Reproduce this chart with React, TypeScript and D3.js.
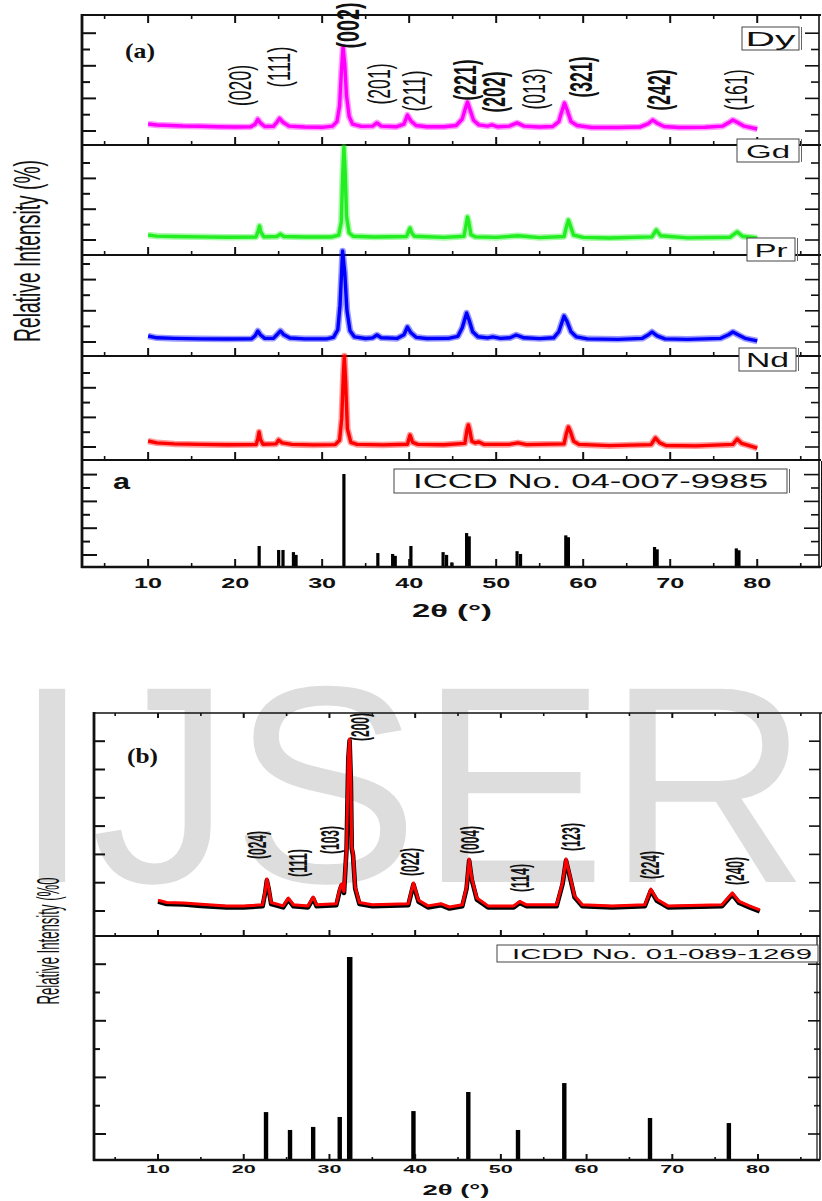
import React, { useRef, useEffect } from "react";
import * as d3 from "d3";

type Pt = [number, number];

// ---------- figure (a): XRD patterns, relative intensity (%) vs 2theta ----------
const samplesA = ["Dy", "Gd", "Pr", "Nd"];
const colorsA = ["#ff00ff", "#22ee22", "#0000ff", "#ff0000"];

const dyPattern: Pt[] = [
  [10, 16.2], [11, 15.4], [12.5, 15], [14, 14.6], [16, 14.4], [18, 14], [20, 13.8], [21.8, 14],
  [22.3, 16], [22.6, 19.8], [22.9, 17], [23.4, 14.2], [24.4, 14.3], [24.8, 17.5], [25.1, 20.5],
  [25.5, 17.5], [26.2, 14.5], [28, 13.8], [30, 13.6], [31.2, 14.5], [31.7, 18], [32.0, 30],
  [32.2, 55], [32.4, 75.4], [32.6, 62], [32.8, 38], [33.1, 22], [33.5, 16], [34.5, 14.3],
  [35.8, 14.5], [36.3, 17], [36.8, 14.5], [38.5, 14], [39.4, 16], [39.8, 23], [40.2, 18.5],
  [40.8, 15], [42, 14], [44, 14], [45.4, 15], [46.1, 20], [46.45, 28], [46.7, 33], [47.0, 27],
  [47.4, 19], [48, 15.5], [49, 14.5], [49.5, 15.4], [50.2, 14], [51.5, 14.5], [52.4, 17],
  [53.2, 14.5], [55, 13.8], [56.5, 14.2], [57.2, 18], [57.55, 26], [57.85, 32.3], [58.2, 26],
  [58.6, 18], [59.3, 15], [61, 13.5], [64, 13.5], [66.5, 13.8], [67.5, 16.5], [68.0, 19.2],
  [68.5, 16.8], [69.3, 14.2], [71, 13.5], [74, 13.6], [76, 14.5], [76.8, 17.5], [77.2, 19.2],
  [77.7, 17.5], [78.5, 14.5], [80, 12.3]
];

const gdPattern: Pt[] = [
  [10, 18.2], [11, 17.2], [13, 16.8], [16, 16.5], [19, 16.2], [22.4, 16.4], [22.65, 22],
  [22.8, 26.4], [22.95, 21], [23.3, 16.5], [24.8, 16.8], [25.2, 19], [25.6, 16.8], [28, 16.3],
  [31, 16.3], [31.9, 18], [32.2, 30], [32.35, 70], [32.5, 98], [32.65, 75], [32.8, 35],
  [33.1, 20], [33.6, 17], [36, 16.3], [39.7, 16.8], [39.95, 22], [40.1, 24.5], [40.3, 20],
  [40.6, 17], [44, 16], [46.3, 17], [46.55, 28], [46.7, 34.5], [46.85, 30], [47.1, 18.5],
  [47.6, 16.5], [50, 16], [52.5, 17.5], [55, 15.8], [57.8, 16.8], [58.05, 25], [58.3, 31.8],
  [58.55, 26], [58.9, 18], [60, 16], [63, 15.5], [67.9, 16.5], [68.4, 22.7], [68.9, 17.5],
  [72, 15.6], [76.9, 16.2], [77.7, 21], [78.3, 17], [80, 15.5]
];

const prPattern: Pt[] = [
  [10, 19.8], [11, 18], [13, 17.4], [16, 17], [19, 16.8], [21.9, 17], [22.3, 20], [22.6, 24.8],
  [22.9, 21], [23.4, 17.5], [24.4, 17.5], [24.8, 21], [25.2, 24.8], [25.6, 21], [26.3, 17.8],
  [28, 17], [30.5, 17], [31.3, 18.5], [31.8, 26], [32.05, 50], [32.35, 104], [32.6, 82],
  [32.85, 45], [33.2, 25], [33.7, 19], [35, 17.3], [35.8, 18], [36.3, 20.8], [36.8, 18],
  [38.6, 17.4], [39.4, 21], [39.8, 28.7], [40.2, 23], [40.8, 18.5], [42, 17.3], [44.5, 17.5],
  [45.6, 19.5], [46.1, 28], [46.6, 42.6], [46.95, 34], [47.3, 24], [47.9, 19], [49, 18],
  [49.6, 19], [50.5, 17.5], [51.6, 18], [52.3, 20.8], [53.2, 18], [55, 17.2], [56.6, 18],
  [57.2, 24], [57.8, 39.6], [58.15, 34], [58.6, 24], [59.2, 19], [60.5, 17], [64, 16.5],
  [66.8, 17.5], [67.5, 21], [67.9, 23.8], [68.5, 20], [69.4, 17], [72, 16.5], [75.8, 17.5],
  [76.7, 21], [77.2, 23.8], [77.8, 21], [78.6, 17.5], [80, 14.9]
];

const ndPattern: Pt[] = [
  [10, 18.3], [11, 16.5], [13, 15.5], [16, 15], [19, 14.6], [22.4, 14.8], [22.6, 20],
  [22.75, 26.9], [22.9, 20], [23.2, 15.2], [24.7, 15.5], [25.0, 19.2], [25.4, 16.5], [26.5, 15],
  [29, 14.5], [31.5, 14.8], [32.0, 19], [32.25, 40], [32.45, 85], [32.55, 100], [32.7, 75],
  [32.9, 30], [33.3, 17], [34, 15], [37, 14.5], [39.8, 15.2], [40.1, 24], [40.4, 17], [41, 15],
  [44, 14.6], [46.4, 16], [46.65, 29], [46.8, 33.7], [46.95, 29], [47.2, 18], [47.6, 16.5],
  [48, 17.3], [48.6, 15], [51.5, 15], [52.5, 16.5], [53.5, 14.8], [57.8, 15.5], [58.05, 25],
  [58.3, 31.7], [58.55, 27], [58.9, 18], [59.5, 15], [63, 13.8], [67.8, 14.8], [68.3, 21.2],
  [68.8, 16.5], [69.5, 14], [73, 13.6], [77.2, 15], [77.7, 20.2], [78.2, 16], [79, 14], [80, 11.5]
];

// ICCD No. 04-007-9985 stick pattern
const refA: Pt[] = [
  [22.76, 22.6], [25.0, 18.3], [25.5, 18.3], [26.7, 16], [27.0, 13], [32.5, 100], [36.4, 15],
  [38.1, 14], [38.4, 12], [40.2, 22.6], [43.9, 16], [44.3, 13], [44.9, 5], [46.6, 36.5],
  [46.9, 33], [52.4, 17], [52.8, 14], [58.0, 34], [58.3, 32], [68.2, 21.5], [68.5, 19],
  [77.6, 20], [77.9, 18]
];

const hklA = ["(020)", "(111)", "(002)", "(201)", "(211)", "(221)", "(202)", "(013)", "(321)", "(242)", "(161)"];
const hklAPos = [20.9, 25.4, 33.3, 36.9, 40.9, 46.7, 50.1, 54.7, 60.1, 69.0, 77.9];

// ---------- figure (b) ----------
const patternB: Pt[] = [
  [10, 16.1], [11, 15], [13, 14.8], [15, 14.2], [18, 13.5], [20, 13.5], [22.2, 14], [22.5, 20],
  [22.7, 25.6], [22.9, 22], [23.2, 15], [24.6, 13.5], [25.2, 17], [25.8, 14], [27.5, 13.5],
  [28.1, 17.5], [28.5, 14], [30.8, 14.5], [31.2, 21], [31.4, 23.3], [31.7, 20], [32.0, 40],
  [32.2, 80], [32.35, 88.3], [32.5, 70], [32.6, 40], [32.75, 37], [33.0, 22], [33.5, 15],
  [35, 14], [39.2, 14.5], [39.8, 23.8], [40.4, 16], [41.5, 13.5], [43, 14.5], [44, 13],
  [45.5, 14], [46.0, 22], [46.3, 34.5], [46.6, 26], [47.2, 17], [48.5, 13.5], [51.5, 13.5],
  [52.2, 15.5], [53, 14], [56.5, 14], [57.2, 24], [57.6, 34.5], [58.0, 28], [58.6, 18],
  [59.5, 14], [63, 13.5], [66.8, 14], [67.5, 21], [68.2, 16.5], [69.5, 13.5], [75.8, 14],
  [77, 19.3], [77.8, 15.5], [79, 13.5], [80.2, 11.7]
];

// ICDD No. 01-089-1269 stick pattern
const refB: Pt[] = [
  [22.6, 23.6], [25.4, 14.8], [28.1, 16.3], [31.2, 21.2], [32.3, 100], [39.8, 24.1],
  [46.2, 33.5], [52.0, 14.8], [57.4, 37.9], [67.4, 20.7], [76.6, 18.2]
];

const hklB = ["(024)", "(111)", "(103)", "(200)", "(022)", "(004)", "(114)", "(123)", "(224)", "(240)"];
const hklBPos = [21.8, 26.6, 30.3, 33.8, 39.6, 46.6, 52.5, 58.4, 67.6, 77.6];

const xTickLabels = [10, 20, 30, 40, 50, 60, 70, 80];

// ---------- layout ----------
const SANS = "'Liberation Sans', Arial, sans-serif";
const SERIF = "'Liberation Serif', 'Times New Roman', serif";

const panelsA = [
  { top: 15, bottom: 145, step: 16.3, off: 14, box: [742, 27, 57, 23], fs: 21, tw: 50 },
  { top: 145, bottom: 255, step: 15.4, off: 15, box: [737, 139, 62, 23], fs: 18, tw: 44 },
  { top: 255, bottom: 356, step: 15.6, off: 14, box: [747, 238, 48, 23], fs: 19, tw: 33 },
  { top: 356, bottom: 460, step: 14.8, off: 13, box: [739, 348, 57, 23], fs: 20, tw: 43 }
];
const hklAY = [85.5, 67, 25.5, 84, 91, 80, 92, 89, 77, 90, 90];
const hklBY = [845, 863, 840, 727, 862, 840, 878, 837, 865, 871];

const App = () => {
  const svgRef = useRef<SVGSVGElement>(null);

  useEffect(() => {
    const svg = d3.select(svgRef.current);
    svg.selectAll("*").remove();

    // watermark
    svg
      .append("text")
      .attr("x", 13)
      .attr("y", 882)
      .attr("font-family", SANS)
      .attr("font-size", 281)
      .attr("fill", "#dddddd")
      .text("IJSER");

    const hLine = (x1, x2, y, w = 2) =>
      svg.append("line").attr("x1", x1).attr("x2", x2).attr("y1", y).attr("y2", y)
        .attr("stroke", "#111").attr("stroke-width", w);
    const vLine = (x, y1, y2, w = 2) =>
      svg.append("line").attr("x1", x).attr("x2", x).attr("y1", y1).attr("y2", y2)
        .attr("stroke", "#111").attr("stroke-width", w);

    const xTicks = (x, y, dir, majorLen, minorLen) => {
      d3.range(5, 90, 5).forEach((v) => {
        const major = v % 10 === 0;
        vLine(x(v), y, y + dir * (major ? majorLen : minorLen), major ? 2 : 1.6);
      });
    };

    const yTicks = (left, right, top, bottom, off, step, longLen, shortLen) => {
      let k = 0;
      for (let y = bottom - off; y > top + 3; y -= step, k++) {
        const len = k % 2 === 0 ? longLen : shortLen;
        hLine(left, left + len, y, 2);
        hLine(right - len, right, y, 1.6);
      }
    };

    const stretched = (txt, x, y, fs, len, opts: any = {}) =>
      svg
        .append("text")
        .attr("x", x)
        .attr("y", y)
        .attr("font-family", opts.family || SANS)
        .attr("font-weight", opts.weight || "normal")
        .attr("font-size", fs)
        .attr("text-anchor", opts.anchor || "start")
        .attr("textLength", len)
        .attr("lengthAdjust", "spacingAndGlyphs")
        .attr("fill", "#111")
        .text(txt);

    const rotated = (txt, cx, cy, fs, len, sx, weight = "normal") =>
      svg
        .append("text")
        .attr("transform", `translate(${cx + 0.26 * fs * sx},${cy}) scale(${sx},1) rotate(-90)`)
        .attr("font-family", SANS)
        .attr("font-weight", weight)
        .attr("font-size", fs)
        .attr("text-anchor", "middle")
        .attr("textLength", len)
        .attr("lengthAdjust", "spacingAndGlyphs")
        .attr("fill", "#111")
        .text(txt);

    // ================= (a) =================
    const xA = d3.scaleLinear().domain([2.4, 87.1]).range([82, 819]);
    const seriesA = [dyPattern, gdPattern, prPattern, ndPattern];

    panelsA.forEach((p, i) => {
      const y = d3.scaleLinear().domain([0, 100]).range([p.bottom, p.top]);
      const line = d3.line<Pt>().x((d) => xA(d[0])).y((d) => y(d[1]));
      svg.append("path").attr("d", line(seriesA[i])).attr("fill", "none")
        .attr("stroke", colorsA[i]).attr("stroke-opacity", 0.4).attr("stroke-width", 6.5)
        .attr("stroke-linejoin", "round");
      svg.append("path").attr("d", line(seriesA[i])).attr("fill", "none")
        .attr("stroke", colorsA[i]).attr("stroke-width", 3.4).attr("stroke-linejoin", "round");
      yTicks(82, 819, p.top, p.bottom, p.off, p.step, 14, 8);
      xTicks(xA, p.bottom, -1, 8, 4);
      hLine(82, 821, p.bottom, 2);
    });

    // reference sticks (a)
    const refTop = 460;
    const refBottom = 567;
    const yRefA = d3.scaleLinear().domain([0, 100]).range([refBottom, 474]);
    svg.append("g").selectAll("rect").data(refA).enter().append("rect")
      .attr("x", (d) => xA(d[0]) - 1.6)
      .attr("width", 3.2)
      .attr("y", (d) => yRefA(d[1]))
      .attr("height", (d) => refBottom - yRefA(d[1]))
      .attr("fill", "#000");
    yTicks(82, 819, refTop, refBottom, 12, 13.4, 15, 8);
    xTicks(xA, refBottom, -1, 8, 4);

    // frame (a)
    hLine(82, 821, 15, 2);
    xTicks(xA, 15, 1, 8, 4);
    hLine(81, 821, refBottom, 2.5);
    vLine(82, 14, refBottom + 1, 2.8);
    vLine(819, 15, refBottom, 1.6);
    vLine(821.5, 461, refBottom, 1);

    // sample boxes
    panelsA.forEach((p, i) => {
      const [bx, by, bw, bh] = p.box;
      svg.append("rect").attr("x", bx).attr("y", by).attr("width", bw).attr("height", bh)
        .attr("fill", "#fff").attr("stroke", "#444").attr("stroke-width", 1);
      vLine(bx + bw + 2.5, by, by + bh, 1).attr("stroke", "#666");
      stretched(samplesA[i], bx + bw / 2, by + bh - 4, p.fs, p.tw, { anchor: "middle" });
    });

    // ICCD box
    svg.append("rect").attr("x", 394).attr("y", 469).attr("width", 393).attr("height", 24)
      .attr("fill", "#fff").attr("stroke", "#444").attr("stroke-width", 1);
    vLine(789.5, 469, 493, 1).attr("stroke", "#666");
    stretched("ICCD No. 04-007-9985", 413, 488, 20, 355);
    stretched("a", 113, 489, 22, 17, { weight: "bold" });
    stretched("(a)", 125, 58, 21, 30, { family: SERIF, weight: "bold" });

    // hkl labels (a)
    hklA.forEach((h, i) => {
      const bold = ["(002)", "(221)", "(202)", "(321)", "(242)"].includes(h);
      rotated(h, xA(hklAPos[i]), hklAY[i], 17.5, h === "(002)" ? 46 : 41, 1.8, bold ? "bold" : "normal");
    });

    // axis labels (a)
    xTickLabels.forEach((v) => stretched(String(v), xA(v), 588, 14, 28, { anchor: "middle", weight: "bold" }));
    stretched("2θ (°)", 452, 617, 18, 80, { anchor: "middle", weight: "bold" });
    svg.append("text")
      .attr("transform", "translate(40,251) scale(1.9,1) rotate(-90)")
      .attr("font-family", SANS).attr("font-size", 19.5).attr("text-anchor", "middle")
      .attr("textLength", 182).attr("lengthAdjust", "spacingAndGlyphs").attr("fill", "#111")
      .text("Relative Intensity (%)");

    // ================= (b) =================
    const xB = d3.scaleLinear().domain([2.53, 87]).range([94, 818]);
    const bTop = 713;
    const bMid = 936;
    const bBottom = 1160;
    const yB = d3.scaleLinear().domain([0, 100]).range([bMid, bTop]);
    const lineB = d3.line<Pt>().x((d) => xB(d[0])).y((d) => yB(d[1]));

    svg.append("path").attr("d", lineB(patternB)).attr("fill", "none")
      .attr("transform", "translate(0,1.5)")
      .attr("stroke", "#000").attr("stroke-width", 4.6).attr("stroke-linejoin", "round");
    svg.append("path").attr("d", lineB(patternB)).attr("fill", "none")
      .attr("stroke", "#ff0000").attr("stroke-width", 3).attr("stroke-linejoin", "round");

    const yRefB = d3.scaleLinear().domain([0, 100]).range([bBottom, 957]);
    svg.append("g").selectAll("rect").data(refB).enter().append("rect")
      .attr("x", (d) => xB(d[0]) - 2.2)
      .attr("width", (d) => (d[1] === 100 ? 5.5 : 4.4))
      .attr("y", (d) => yRefB(d[1]))
      .attr("height", (d) => bBottom - yRefB(d[1]))
      .attr("fill", "#000");

    // frame (b)
    hLine(93, 822, bTop, 1.6);
    xTicks(xB, bTop, 1, 5, 3);
    hLine(93, 820, bMid, 1.8);
    xTicks(xB, bMid, -1, 6, 3);
    hLine(93, 820, bBottom, 2.5);
    xTicks(xB, bBottom, -1, 6, 3);
    vLine(94, bTop - 1, bBottom + 1, 2.8);
    vLine(820, bTop, bBottom, 1.6);
    vLine(817, bMid, bBottom, 1.2);
    yTicks(94, 820, bTop, bMid, 25, 28.3, 11, 11);
    yTicks(94, 820, bMid, bBottom, 26, 28.3, 12, 6);

    svg.append("rect").attr("x", 497).attr("y", 945).attr("width", 321).attr("height", 17)
      .attr("fill", "#fff").attr("stroke", "#444").attr("stroke-width", 1);
    stretched("ICDD No. 01-089-1269", 512, 959, 14, 300);
    stretched("(b)", 127, 763, 22, 31, { family: SERIF, weight: "bold" });

    hklB.forEach((h, i) => {
      rotated(h, xB(hklBPos[i]), hklBY[i], 14, 28, 1.9, "bold");
    });

    xTickLabels.forEach((v) => stretched(String(v), xB(v), 1173, 11, 24, { anchor: "middle", weight: "bold" }));
    stretched("2θ (°)", 456, 1195, 15, 67, { anchor: "middle", weight: "bold" });
    svg.append("text")
      .attr("transform", "translate(59,941) scale(2,1) rotate(-90)")
      .attr("font-family", SANS).attr("font-size", 16).attr("text-anchor", "middle")
      .attr("textLength", 127).attr("lengthAdjust", "spacingAndGlyphs").attr("fill", "#111")
      .text("Relative Intensity (%0");
  }, []);

  return (
    <svg
      ref={svgRef}
      width={822}
      height={1201}
      xmlns="http://www.w3.org/2000/svg"
      style={{ position: "absolute", left: 0, top: 0, background: "#fff" }}
    />
  );
};

export default App;
